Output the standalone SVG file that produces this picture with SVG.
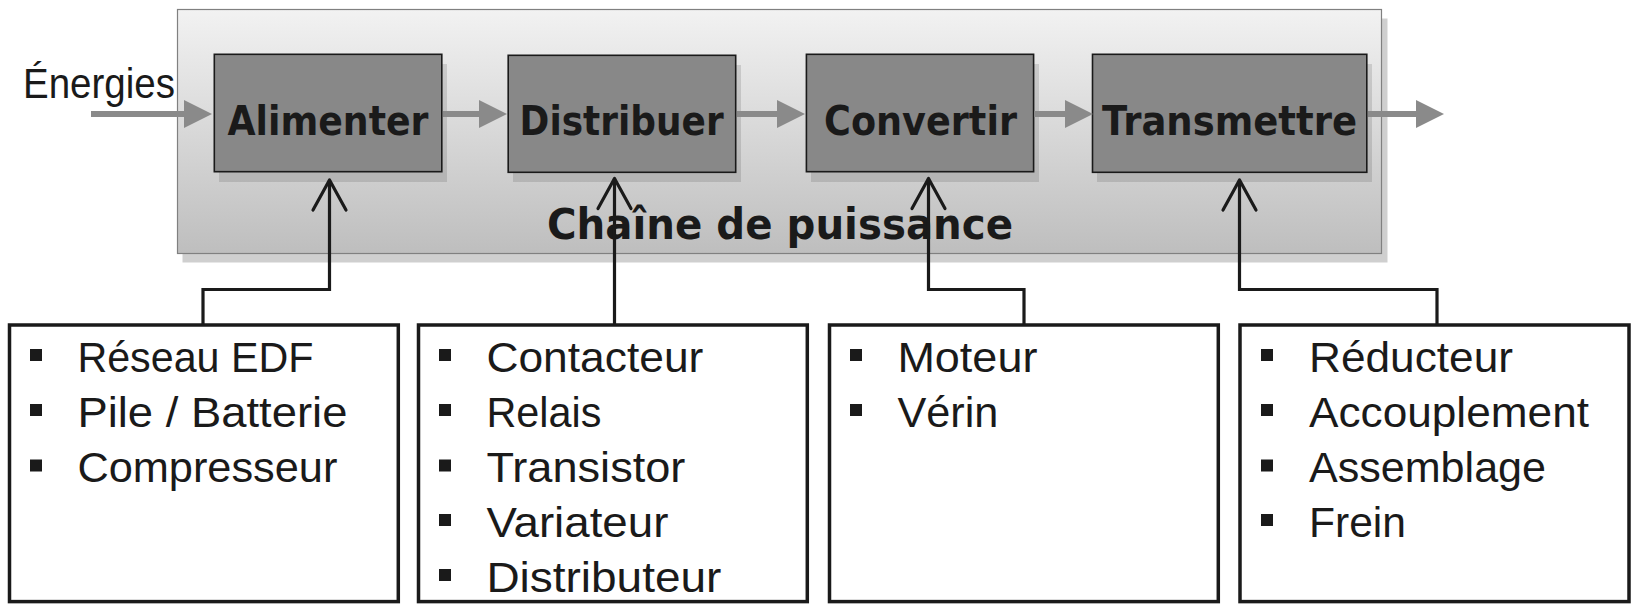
<svg xmlns="http://www.w3.org/2000/svg" width="1640" height="614" viewBox="0 0 1640 614">
<defs>
<linearGradient id="bg" x1="0" y1="0" x2="0" y2="1">
<stop offset="0" stop-color="#f2f2f2"/>
<stop offset="1" stop-color="#bebebe"/>
</linearGradient>
<marker id="gh" markerUnits="userSpaceOnUse" viewBox="0 0 28 28" refX="0" refY="14" markerWidth="28" markerHeight="28" orient="auto">
<path d="M0,0 L28,14 L0,28 z" fill="#8a8a8a"/>
</marker>
<marker id="oh" markerUnits="userSpaceOnUse" viewBox="-34 -20 38 40" refX="0" refY="0" markerWidth="38" markerHeight="40" orient="auto">
<path d="M-30,-16.5 L0,0 L-30,16.5" fill="none" stroke="#1a1a1a" stroke-width="3.2" stroke-linejoin="round" stroke-linecap="round"/>
</marker>
</defs>
<style>
.func rect.b{fill:#888888;stroke:#1a1a1a;stroke-width:1.6}
.func rect.s{fill:#000;fill-opacity:0.12}
.func text{font-family:"DejaVu Sans",Verdana,sans-serif;font-weight:bold;font-size:40px;fill:#1a1a1a}
.list rect.f{fill:#fff;stroke:#1a1a1a;stroke-width:3.5}
.list rect.bu{fill:#1a1a1a}
.list text,.lbl{font-family:"Liberation Sans",Arial,sans-serif;font-size:43px;fill:#1a1a1a}
.flow{stroke:#8a8a8a;stroke-width:6;fill:none;marker-end:url(#gh)}
.link{stroke:#1a1a1a;stroke-width:3.2;fill:none;marker-end:url(#oh)}
</style>
<g id="chaine">
<rect x="182.5" y="18.5" width="1205" height="244" fill="#cfcfcf"/>
<rect x="177.5" y="9.5" width="1204" height="244" fill="url(#bg)" stroke="#808080" stroke-width="1.2"/>
<text x="547" y="238.5" font-family="'DejaVu Sans',Verdana,sans-serif" font-weight="bold" font-size="42" fill="#1a1a1a" textLength="466" lengthAdjust="spacingAndGlyphs">Chaîne de puissance</text>
</g>
<text class="lbl" x="23" y="97.5" font-size="39" textLength="152" lengthAdjust="spacingAndGlyphs">Énergies</text>
<g id="alimenter" class="func">
<rect class="s" x="219" y="64" width="228" height="118"/>
<rect class="b" x="214.3" y="54.3" width="227.5" height="117.4"/>
<text x="227.5" y="135" textLength="201" lengthAdjust="spacingAndGlyphs">Alimenter</text>
</g>
<g id="distribuer" class="func">
<rect class="s" x="513" y="65" width="228" height="117"/>
<rect class="b" x="508.2" y="55.3" width="227.5" height="117"/>
<text x="519.6" y="135" textLength="204" lengthAdjust="spacingAndGlyphs">Distribuer</text>
</g>
<g id="convertir" class="func">
<rect class="s" x="811" y="64" width="228" height="118"/>
<rect class="b" x="806.4" y="54.3" width="227.2" height="117.4"/>
<text x="824" y="135" textLength="193" lengthAdjust="spacingAndGlyphs">Convertir</text>
</g>
<g id="transmettre" class="func">
<rect class="s" x="1097" y="64" width="275" height="118"/>
<rect class="b" x="1092.5" y="54.3" width="274.3" height="118"/>
<text x="1102" y="135" textLength="255" lengthAdjust="spacingAndGlyphs">Transmettre</text>
</g>
<g id="liste-alimenter" class="list">
<rect class="f" x="9.5" y="325" width="388.8" height="276.6"/>
<rect class="bu" x="30" y="349" width="12" height="12"/>
<rect class="bu" x="30" y="404" width="12" height="12"/>
<rect class="bu" x="30" y="459.5" width="12" height="12"/>
<text x="77.4" y="371.7" textLength="236" lengthAdjust="spacingAndGlyphs">Réseau EDF</text>
<text x="77.4" y="426.7" textLength="270" lengthAdjust="spacingAndGlyphs">Pile / Batterie</text>
<text x="77.4" y="482.3" textLength="260" lengthAdjust="spacingAndGlyphs">Compresseur</text>
</g>
<g id="liste-distribuer" class="list">
<rect class="f" x="418.5" y="325" width="388.8" height="276.6"/>
<rect class="bu" x="439" y="349" width="12" height="12"/>
<rect class="bu" x="439" y="404" width="12" height="12"/>
<rect class="bu" x="439" y="459.5" width="12" height="12"/>
<rect class="bu" x="439" y="514" width="12" height="12"/>
<rect class="bu" x="439" y="569" width="12" height="12"/>
<text x="486.4" y="371.7" textLength="217" lengthAdjust="spacingAndGlyphs">Contacteur</text>
<text x="486.4" y="426.7" textLength="115" lengthAdjust="spacingAndGlyphs">Relais</text>
<text x="486.4" y="482.3" textLength="199" lengthAdjust="spacingAndGlyphs">Transistor</text>
<text x="486.4" y="536.7" textLength="182" lengthAdjust="spacingAndGlyphs">Variateur</text>
<text x="486.4" y="591.7" textLength="235" lengthAdjust="spacingAndGlyphs">Distributeur</text>
</g>
<g id="liste-convertir" class="list">
<rect class="f" x="829.5" y="325" width="388.8" height="276.6"/>
<rect class="bu" x="850" y="349" width="12" height="12"/>
<rect class="bu" x="850" y="404" width="12" height="12"/>
<text x="897.4" y="371.7" textLength="140" lengthAdjust="spacingAndGlyphs">Moteur</text>
<text x="897.4" y="426.7" textLength="101" lengthAdjust="spacingAndGlyphs">Vérin</text>
</g>
<g id="liste-transmettre" class="list">
<rect class="f" x="1240" y="325" width="389" height="276.6"/>
<rect class="bu" x="1261" y="349" width="12" height="12"/>
<rect class="bu" x="1261" y="404" width="12" height="12"/>
<rect class="bu" x="1261" y="459.5" width="12" height="12"/>
<rect class="bu" x="1261" y="514" width="12" height="12"/>
<text x="1309" y="371.7" textLength="204" lengthAdjust="spacingAndGlyphs">Réducteur</text>
<text x="1309" y="426.7" textLength="280" lengthAdjust="spacingAndGlyphs">Accouplement</text>
<text x="1309" y="482.3" textLength="237" lengthAdjust="spacingAndGlyphs">Assemblage</text>
<text x="1309" y="536.7" textLength="97" lengthAdjust="spacingAndGlyphs">Frein</text>
</g>
<g id="connectors">
<path class="flow" d="M91,114 H184"/>
<path class="flow" d="M443,114 H479"/>
<path class="flow" d="M737,114 H777"/>
<path class="flow" d="M1034,114 H1065"/>
<path class="flow" d="M1368,114 H1416"/>
<path class="link" d="M203,325 V289.5 H329.5 V180"/>
<path class="link" d="M614.5,325 V178.5"/>
<path class="link" d="M1024,325 V289.5 H928.5 V178.5"/>
<path class="link" d="M1437,325 V289.5 H1239.5 V180"/>
</g>
</svg>
